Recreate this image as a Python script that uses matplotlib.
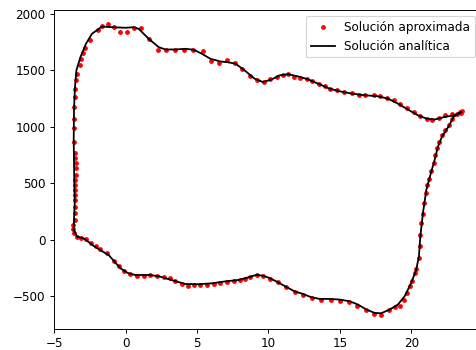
import numpy as np
import matplotlib
matplotlib.use("Agg")
import matplotlib.pyplot as plt

# puntos de la solucion aproximada (x, y)
x_aprox = [-3.62, -3.43, -3.12, -2.77, -2.45, -2.10, -1.77, -1.31, -0.84, -0.49,
           -0.14, 0.33, 0.79, 1.26, 1.73, 2.19, 2.66, 3.13, 3.48, 3.94,
           4.36, 4.76, 5.23, 5.69, 6.16, 6.63, 7.09, 7.56, 8.00, 8.35,
           8.70, 9.17, 9.61, 10.08, 10.67, 11.25, 11.83, 12.42, 13.05, 13.66,
           14.36, 14.99, 15.64, 16.23, 16.86, 17.39, 17.91, 18.42, 18.84, 19.19,
           19.49, 19.73, 19.89, 20.05, 20.24, 20.36, 20.52, 20.59, 20.64, 20.71,
           20.82, 20.89, 21.01, 21.10, 21.24, 21.40, 21.57, 21.69, 21.80, 21.97,
           22.15, 22.39, 22.62, 22.85, 23.20, 23.44, 23.53, 23.46,
           22.85, 22.39, 21.92, 21.45, 21.10, 20.64, 20.17, 19.70, 19.24, 18.77,
           18.30, 17.84, 17.37, 16.79, 16.32, 15.85, 15.27, 14.80, 14.33, 13.98,
           13.52, 13.05, 12.70, 12.23, 11.76, 11.37, 10.99, 10.60, 10.13, 9.66,
           9.19, 8.73, 8.14, 7.68, 7.09, 6.51, 5.97, 5.39, 4.71, 4.11,
           3.48, 2.85, 2.24, 1.61, 1.10, 0.56, 0.09, -0.42, -0.84, -1.24,
           -1.66, -1.94, -2.47, -2.82, -2.97, -3.10, -3.22, -3.38, -3.50, -3.57,
           -3.57, -3.62, -3.62, -3.62, -3.62, -3.57, -3.57, -3.50, -3.50, -3.50,
           -3.57, -3.57, -3.57, -3.57, -3.57, -3.57, -3.57, -3.57, -3.66, -3.66]
y_aprox = [59, 29, 15, 6, -29, -59, -85, -120, -191, -235,
           -280, -302, -317, -317, -309, -317, -329, -338, -368, -391,
           -412, -397, -397, -397, -391, -382, -373, -368, -359, -345,
           -326, -313, -317, -344, -377, -417, -461, -485, -514, -529,
           -529, -538, -553, -582, -623, -653, -661, -617, -597, -582,
           -529, -470, -412, -368, -294, -258, -161, -59, 44, 147,
           227, 324, 417, 485, 540, 610, 676, 750, 809, 867,
           926, 970, 1014, 1073, 1117, 1131, 1142, 1120,
           1117, 1102, 1082, 1064, 1073, 1093, 1131, 1170, 1205, 1235,
           1258, 1270, 1285, 1279, 1285, 1299, 1308, 1323, 1338, 1361,
           1382, 1405, 1420, 1431, 1440, 1464, 1455, 1440, 1420, 1396,
           1411, 1449, 1508, 1564, 1593, 1567, 1581, 1669, 1682, 1682,
           1682, 1682, 1682, 1779, 1876, 1876, 1843, 1843, 1881, 1905,
           1890, 1852, 1764, 1700, 1650, 1602, 1543, 1470, 1411, 1338,
           1264, 1175, 1073, 985, 867, 765, 720, 676, 632, 573,
           529, 485, 441, 397, 353, 294, 235, 176, 132, 94]

# solucion analitica (x, y)
x_anal = [-3.64, -3.41, -2.94, -2.59, -2.24, -1.66, -1.19, -0.84, -0.37, 0.15,
          0.68, 1.61, 2.31, 3.24, 4.18, 5.11, 6.04, 6.98, 7.91, 8.68,
          9.15, 9.61, 10.08, 10.67, 11.25, 11.83, 12.42, 13.00, 13.59, 14.29,
          14.99, 15.69, 16.27, 16.86, 17.44, 17.90, 18.49, 19.07, 19.54, 20.00,
          20.35, 20.54, 20.64, 20.82, 21.06, 21.40, 21.64, 21.87, 22.15, 22.60,
          22.97, 23.51, 23.04, 22.34, 21.64, 21.06, 20.47, 19.77, 19.07, 18.37,
          17.67, 16.74, 15.81, 14.87, 14.17, 13.47, 12.77, 12.07, 11.37, 10.78,
          10.20, 9.61, 9.03, 8.33, 7.70, 7.20, 6.63, 5.93, 5.34, 4.76,
          4.18, 3.48, 2.78, 2.31, 1.61, 0.91, 0.56, 0.00, -0.96, -1.66,
          -2.36, -2.78, -3.17, -3.45, -3.55, -3.62, -3.64, -3.60, -3.57, -3.62,
          -3.64]
y_anal = [88, 29, 12, -20, -55, -100, -135, -185, -252, -294,
          -312, -311, -322, -357, -391, -393, -385, -368, -355, -329,
          -311, -317, -338, -376, -417, -456, -479, -508, -523, -523,
          -529, -544, -573, -617, -647, -650, -617, -573, -500, -382,
          -265, -147, 29, 235, 441, 600, 705, 823, 911, 999,
          1087, 1131, 1102, 1087, 1064, 1073, 1102, 1152, 1205, 1249,
          1270, 1279, 1294, 1317, 1343, 1382, 1420, 1446, 1465, 1455,
          1417, 1396, 1426, 1499, 1558, 1570, 1578, 1602, 1646, 1682,
          1690, 1684, 1684, 1705, 1779, 1867, 1881, 1876, 1881, 1887,
          1823, 1735, 1616, 1500, 1352, 1146, 882, 529, 323, 176,
          88]

fig = plt.figure(figsize=(476 / 86, 350 / 86), dpi=86)
ax = fig.add_axes([54 / 476, 21 / 350, 427 / 476, 319 / 350])

ax.plot(x_aprox, y_aprox, 'r.', label='Solución aproximada')
ax.plot(x_anal, y_anal, 'k-', label='Solución analítica')
ax.legend(loc='upper right')

fig.savefig('out.png', dpi=86)
